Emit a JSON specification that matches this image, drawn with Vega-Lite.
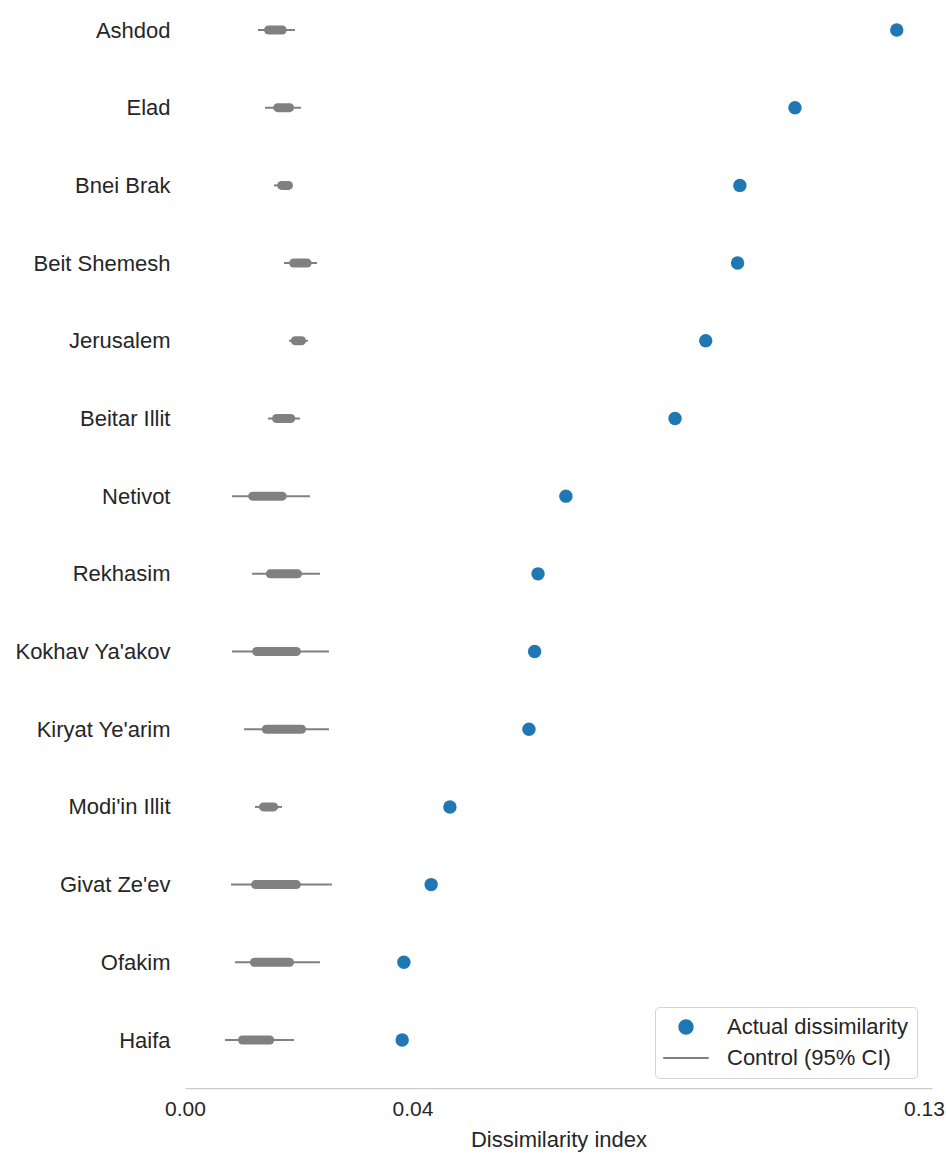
{
  "$schema": "https://vega.github.io/schema/vega-lite/v6.json",
  "width": 747,
  "height": 1088,
  "autosize": {"type": "none"},
  "padding": {"left": 185, "top": 0, "right": 14, "bottom": 65},
  "config": {
    "font": "Liberation Sans",
    "view": {"stroke": null},
    "background": "white"
  },
  "data": {
    "values": [
      {"city": "Ashdod", "actual": 0.1252, "ci_lo": 0.01284, "ci_hi": 0.01934, "mid_lo": 0.0147, "mid_hi": 0.0171},
      {"city": "Elad", "actual": 0.1073, "ci_lo": 0.01407, "ci_hi": 0.0204, "mid_lo": 0.0163, "mid_hi": 0.0184},
      {"city": "Bnei Brak", "actual": 0.0976, "ci_lo": 0.01565, "ci_hi": 0.01881, "mid_lo": 0.017, "mid_hi": 0.0182},
      {"city": "Beit Shemesh", "actual": 0.0972, "ci_lo": 0.01741, "ci_hi": 0.02321, "mid_lo": 0.0191, "mid_hi": 0.0215},
      {"city": "Jerusalem", "actual": 0.0916, "ci_lo": 0.01829, "ci_hi": 0.02163, "mid_lo": 0.0194, "mid_hi": 0.0205},
      {"city": "Beitar Illit", "actual": 0.0862, "ci_lo": 0.01459, "ci_hi": 0.02022, "mid_lo": 0.0161, "mid_hi": 0.0186},
      {"city": "Netivot", "actual": 0.067, "ci_lo": 0.00826, "ci_hi": 0.02198, "mid_lo": 0.0119, "mid_hi": 0.0171},
      {"city": "Rekhasim", "actual": 0.0621, "ci_lo": 0.01178, "ci_hi": 0.02374, "mid_lo": 0.015, "mid_hi": 0.0198},
      {"city": "Kokhav Ya'akov", "actual": 0.0615, "ci_lo": 0.00826, "ci_hi": 0.02532, "mid_lo": 0.0126, "mid_hi": 0.0196},
      {"city": "Kiryat Ye'arim", "actual": 0.0605, "ci_lo": 0.01037, "ci_hi": 0.02532, "mid_lo": 0.0143, "mid_hi": 0.0205},
      {"city": "Modi'in Illit", "actual": 0.0466, "ci_lo": 0.01231, "ci_hi": 0.01706, "mid_lo": 0.0138, "mid_hi": 0.0156},
      {"city": "Givat Ze'ev", "actual": 0.0433, "ci_lo": 0.00809, "ci_hi": 0.02585, "mid_lo": 0.0124, "mid_hi": 0.0196},
      {"city": "Ofakim", "actual": 0.0385, "ci_lo": 0.00879, "ci_hi": 0.02374, "mid_lo": 0.0122, "mid_hi": 0.0184},
      {"city": "Haifa", "actual": 0.0382, "ci_lo": 0.00703, "ci_hi": 0.01917, "mid_lo": 0.0101, "mid_hi": 0.0149}
    ]
  },
  "encoding": {
    "y": {
      "field": "city",
      "type": "nominal",
      "sort": null,
      "scale": {"type": "point", "range": [30, 1040], "padding": 0},
      "axis": {
        "title": null,
        "ticks": false,
        "domain": false,
        "grid": false,
        "labelFontSize": 22,
        "labelColor": "#262626",
        "labelPadding": 15,
        "labelLimit": 400
      }
    }
  },
  "layer": [
    {
      "mark": {"type": "rule", "strokeWidth": 2},
      "encoding": {
        "x": {
          "field": "ci_lo",
          "type": "quantitative",
          "scale": {"domain": [0, 0.1314], "nice": false, "zero": false},
          "axis": {
            "title": "Dissimilarity index",
            "values": [0, 0.04, 0.13],
            "format": ".2f",
            "grid": false,
            "ticks": false,
            "tickSize": 0,
            "domainColor": "#cccccc",
            "domainWidth": 1.25,
            "labelFontSize": 21,
            "labelColor": "#262626",
            "labelPadding": 10,
            "labelFlush": false,
            "labelBound": false,
            "labelOverlap": false,
            "titleFontSize": 22,
            "titleFontWeight": "normal",
            "titleColor": "#262626",
            "titlePadding": 10
          }
        },
        "x2": {"field": "ci_hi"},
        "color": {
          "datum": "Control (95% CI)",
          "type": "nominal",
          "scale": {"domain": ["Actual dissimilarity", "Control (95% CI)"], "range": ["#1f77b4", "#808080"]},
          "legend": {
            "title": null,
            "orient": "none",
            "legendX": 470,
            "legendY": 1007,
            "padding": 9,
            "rowPadding": 9,
            "strokeColor": "#d4d4d4",
            "fillColor": "white",
            "cornerRadius": 4,
            "labelFontSize": 22,
            "labelColor": "#262626",
            "labelOffset": 30,
            "symbolOffset": 11,
            "symbolSize": 180,
            "labelLimit": 400,
            "encode": {
              "symbols": {
                "update": {
                  "shape": {"signal": "datum.value === 'Control (95% CI)' ? 'M-3.4,0H3.4' : 'circle'"},
                  "fill": {"signal": "datum.value === 'Control (95% CI)' ? 'transparent' : '#1f77b4'"},
                  "stroke": {"signal": "datum.value === 'Control (95% CI)' ? '#808080' : 'transparent'"},
                  "strokeWidth": {"value": 2},
                  "opacity": {"value": 1},
                  "fillOpacity": {"value": 1},
                  "strokeOpacity": {"value": 1}
                }
              }
            }
          }
        }
      }
    },
    {
      "mark": {"type": "rule", "strokeWidth": 9, "strokeCap": "round"},
      "encoding": {
        "x": {"field": "mid_lo", "type": "quantitative"},
        "x2": {"field": "mid_hi"},
        "color": {"datum": "Control (95% CI)", "type": "nominal"}
      }
    },
    {
      "mark": {"type": "point", "filled": true, "opacity": 1, "size": 180},
      "encoding": {
        "x": {"field": "actual", "type": "quantitative"},
        "color": {"datum": "Actual dissimilarity", "type": "nominal"}
      }
    }
  ]
}
